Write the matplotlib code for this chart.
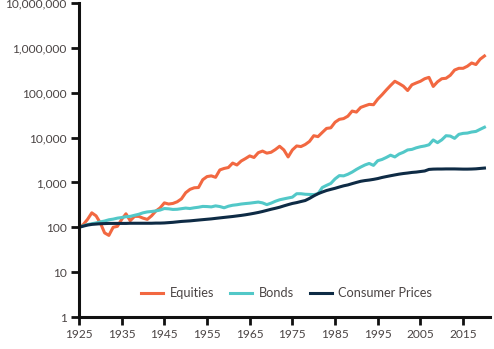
import matplotlib.pyplot as plt
from matplotlib.ticker import FuncFormatter, FixedLocator
import numpy as np

years = np.arange(1925, 2021)

# growth of 100 (log scale)
equities = [100, 115, 150, 210, 180, 125, 75, 66, 100, 105,
            150, 200, 140, 175, 175, 160, 150, 180, 230, 270,
            350, 330, 340, 370, 430, 590, 700, 760, 770, 1150,
            1350, 1400, 1300, 1900, 2050, 2150, 2700, 2450, 3000, 3400,
            3900, 3600, 4600, 5000, 4500, 4700, 5400, 6400, 5300, 3700,
            5300, 6500, 6300, 7000, 8200, 11000, 10500, 13000, 16000, 16500,
            22000, 25500, 26500, 30000, 39000, 37000, 47000, 51000, 55000, 54000,
            72000, 90000, 115000, 145000, 180000, 160000, 140000, 112000, 150000, 165000,
            180000, 205000, 220000, 138000, 175000, 205000, 210000, 245000, 320000, 350000,
            350000, 390000, 460000, 425000, 560000, 660000]

bonds = [100, 108, 115, 120, 125, 132, 138, 147, 152, 160,
         165, 172, 175, 185, 195, 210, 220, 225, 232, 242,
         262, 258, 250, 252, 260, 268, 262, 272, 280, 292,
         290, 285, 300, 290, 272, 295, 310, 318, 330, 338,
         345, 355, 365, 350, 320, 345, 380, 410, 430, 450,
         470, 560, 560, 545, 540, 535, 560, 770, 860, 950,
         1200, 1420, 1400, 1520, 1700, 1950, 2200, 2450, 2650, 2400,
         3050, 3250, 3600, 4050, 3700, 4300, 4700, 5300, 5450, 5900,
         6250, 6500, 6900, 8850, 7700, 8900, 11000, 10800, 9600, 11800,
         12400, 12600, 13300, 13700, 15300, 17000]

cpi = [100, 106, 112, 116, 118, 120, 121, 122, 122, 122,
       122, 122, 123, 123, 123, 123, 123, 123, 124, 124,
       125, 127, 129, 132, 135, 137, 139, 142, 145, 148,
       151, 154, 158, 162, 166, 170, 174, 179, 184, 190,
       197, 205, 214, 225, 238, 252, 265, 280, 300, 320,
       340, 355, 375, 395, 440, 500, 560, 610, 660, 700,
       740, 790, 840, 880, 940, 1000, 1060, 1100, 1130, 1170,
       1220, 1290, 1350, 1410, 1470, 1530, 1580, 1620, 1670, 1700,
       1750, 1800, 1950, 1980, 1990, 1990, 2000, 2000, 2000, 1990,
       1980, 1980, 1990, 2010, 2050, 2090]

ytick_vals = [1, 10, 100, 1000, 10000, 100000, 1000000, 10000000]
xtick_vals = list(range(1925, 2016, 10))

plt.rcParams['font.family'] = ['Lato', 'DejaVu Sans']

fig = plt.figure(figsize=(4.94, 3.49), dpi=100)
ax = fig.add_axes([79 / 494, 32 / 349, 411 / 494, 314 / 349])

ax.plot(years, equities, color='#F26841', lw=2.2, label='Equities')
ax.plot(years, bonds, color='#52C8C8', lw=2.2, label='Bonds')
ax.plot(years, cpi, color='#0E2B45', lw=2.2, label='Consumer Prices')

ax.set_yscale('log')
ax.set_ylim(1, 1e7)
ax.set_xlim(1925, 2021.3)
ax.yaxis.set_major_locator(FixedLocator(ytick_vals))
ax.yaxis.set_minor_locator(FixedLocator([]))
ax.yaxis.set_major_formatter(FuncFormatter(lambda v, p: f'{v:,.0f}'))
ax.set_xticks(xtick_vals)

for s in ['top', 'right']:
    ax.spines[s].set_visible(False)
for s in ['left', 'bottom']:
    ax.spines[s].set_linewidth(2.2)
    ax.spines[s].set_color('#111111')
ax.tick_params(length=6, width=2, color='#111111', labelsize=8.6,
               labelcolor='#4a4444', pad=3)

leg = ax.legend(loc='lower center', bbox_to_anchor=(0.505, 0.02), ncol=3,
                frameon=False, fontsize=9.2, handlelength=1.75,
                columnspacing=1.25, handletextpad=0.5)
for t in leg.get_texts():
    t.set_color('#4a4444')

fig.savefig('out.png', dpi=100)
